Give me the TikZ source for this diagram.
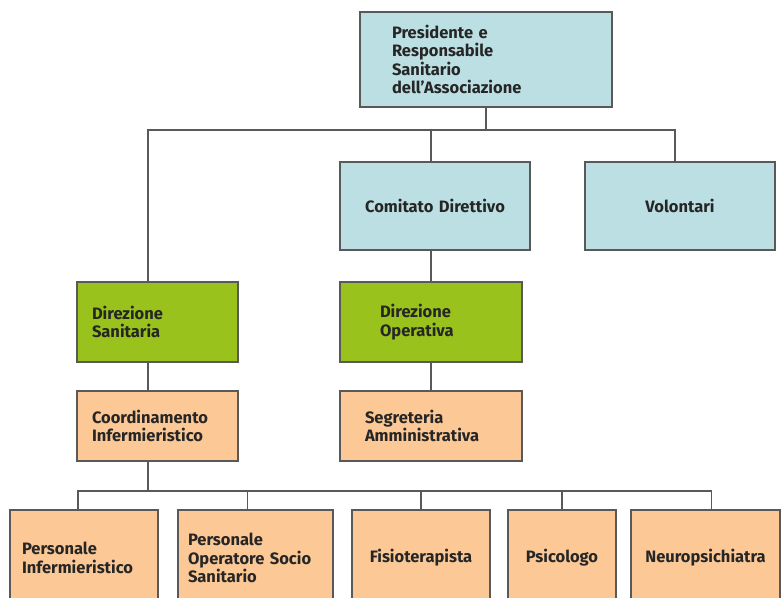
\documentclass[tikz,border=0pt]{standalone}
\usepackage{fontspec}
\setmainfont{Fira Sans}
\definecolor{boxblue}{RGB}{188,223,227}
\definecolor{boxgreen}{RGB}{153,194,28}
\definecolor{boxpeach}{RGB}{251,200,150}

\begin{document}
\begin{tikzpicture}[x=1pt,y=-1pt,
  unit/.style={draw=black!65, line width=1.2pt, align=left, inner ysep=0pt,
    font=\bfseries\fontsize{16.5}{18.5}\selectfont, text=black!85},
  link/.style={draw=black!65, line width=1.2pt}]
\useasboundingbox (0,0) rectangle (783,597);
\clip (0,0) rectangle (783,597);

% vertice
\node[unit, fill=boxblue, minimum width=252pt, minimum height=95pt, inner xsep=32pt, text width=188pt] (pres) at (486,59.5) {Presidente e\\Responsabile\\Sanitario\\dell'Associazione};

% secondo livello
\node[unit, fill=boxblue, align=center, minimum width=190pt, minimum height=88pt, inner xsep=5pt, text width=180pt] (com) at (435,206) {Comitato Direttivo};
\node[unit, fill=boxblue, align=center, minimum width=190pt, minimum height=88pt, inner xsep=5pt, text width=180pt] (vol) at (680,206) {Volontari};

% direzioni
\node[unit, fill=boxgreen, minimum width=161pt, minimum height=80pt, inner xsep=15pt, text width=131pt] (dirsan) at (157.5,322) {Direzione\\Sanitaria};
\node[unit, fill=boxgreen, minimum width=182pt, minimum height=80pt, inner xsep=40pt, text width=102pt] (dirop) at (431,322) {Direzione\\Operativa};

\node[unit, fill=boxpeach, minimum width=161pt, minimum height=70pt, inner xsep=15pt, text width=131pt] (coord) at (157.5,426) {Coordinamento\\Infermieristico};
\node[unit, fill=boxpeach, minimum width=182pt, minimum height=70pt, inner xsep=25pt, text width=132pt] (segr) at (431,426) {Segreteria\\Amministrativa};

% personale
\node[unit, fill=boxpeach, minimum width=148pt, minimum height=96pt, inner xsep=12pt, text width=124pt] (persinf) at (84,558) {Personale\\Infermieristico};
\node[unit, fill=boxpeach, minimum width=155pt, minimum height=96pt, inner xsep=10pt, text width=135pt] (oss) at (255.5,558) {Personale\\Operatore Socio\\Sanitario};
\node[unit, fill=boxpeach, align=center, minimum width=138pt, minimum height=96pt, inner xsep=5pt, text width=128pt] (fisio) at (421,558) {Fisioterapista};
\node[unit, fill=boxpeach, align=center, minimum width=108pt, minimum height=96pt, inner xsep=5pt, text width=98pt] (psico) at (562,558) {Psicologo};
\node[unit, fill=boxpeach, align=center, minimum width=149pt, minimum height=96pt, inner xsep=5pt, text width=139pt] (neuro) at (705.5,558) {Neuropsichiatra};

% collegamenti
\coordinate (topbar) at (486,130);
\draw[link] (pres.south) -- (topbar);
\draw[link] ([xshift=-9.5pt]dirsan.north) |- (topbar) -| ([xshift=-5pt]vol.north);
\draw[link] ([xshift=-4pt]com.north) -- ([xshift=-4pt]com.north |- topbar);
\draw[link] (dirop.north) -- (dirop.north |- com.south);
\draw[link] ([xshift=-9.5pt]dirsan.south) -- ([xshift=-9.5pt]coord.north);
\draw[link] (dirop.south) -- (segr.north);

\coordinate (botbar) at (148,491);
\draw[link] ([xshift=-9.5pt]coord.south) -- (botbar);
\draw[link] ([xshift=-6pt]persinf.north) |- (botbar) -| ([xshift=6pt]neuro.north);
\draw[link] ([xshift=-8pt]oss.north) -- ([xshift=-8pt]oss.north |- botbar);
\foreach \n in {fisio,psico}
  \draw[link] (\n.north) -- (\n.north |- botbar);
\end{tikzpicture}
\end{document}
